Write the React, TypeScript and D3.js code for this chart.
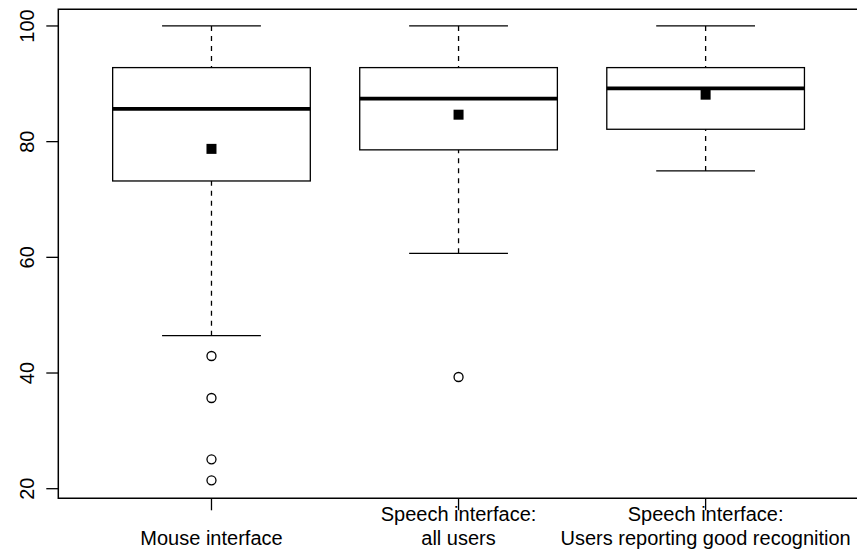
import React from "react";
import * as d3 from "d3";

const categories = [
  ["Mouse interface"],
  ["Speech interface:", "all users"],
  ["Speech interface:", "Users reporting good recognition"],
];
const whiskerLow = [46.45, 60.7, 74.93];
const q1 = [73.2, 78.58, 82.14];
const median = [85.66, 87.43, 89.2];
const q3 = [92.8, 92.8, 92.8];
const whiskerHigh = [100, 100, 100];
const means = [78.75, 84.66, 88.12];
const outliers = [
  [42.94, 35.68, 25.08, 21.45],
  [39.31],
  [],
];
const yTicks = [20, 40, 60, 80, 100];

const W = 857;
const H = 550;
const left = 58.3;
const top = 9.3;
const bottom = 498.3;
const right = 858.8;

export default function App() {
  const x = d3.scaleLinear().domain([0.38, 3.62]).range([left, right]);
  const y = d3.scaleLinear().domain([18.34, 102.88]).range([bottom, top]);
  const bw = x(1.4) - x(1);
  const cw = x(1.2) - x(1);
  const font = "'Liberation Sans', Arial, Helvetica, sans-serif";
  const stroke = "#000";
  const lw = 1.3;

  return (
    <svg
      width={W}
      height={H}
      style={{ position: "absolute", left: 0, top: 0, display: "block", background: "#fff" }}
    >
      {/* plot frame (right side lies outside the canvas) */}
      <path
        d={`M${W + 2},${top}H${left}V${bottom}H${W + 2}`}
        fill="none"
        stroke={stroke}
        strokeWidth={1.5}
      />

      {categories.map((cat, i) => {
        const cx = x(i + 1);
        return (
          <g key={i}>
            <line x1={cx} x2={cx} y1={y(whiskerHigh[i])} y2={y(q3[i])} stroke={stroke} strokeWidth={lw} strokeDasharray="5,5" />
            <line x1={cx} x2={cx} y1={y(whiskerLow[i])} y2={y(q1[i])} stroke={stroke} strokeWidth={lw} strokeDasharray="5,5" />
            <line x1={cx - cw} x2={cx + cw} y1={y(whiskerHigh[i])} y2={y(whiskerHigh[i])} stroke={stroke} strokeWidth={lw} />
            <line x1={cx - cw} x2={cx + cw} y1={y(whiskerLow[i])} y2={y(whiskerLow[i])} stroke={stroke} strokeWidth={lw} />
            <rect x={cx - bw} y={y(q3[i])} width={2 * bw} height={y(q1[i]) - y(q3[i])} fill="#fff" stroke={stroke} strokeWidth={lw} />
            <line x1={cx - bw} x2={cx + bw} y1={y(median[i])} y2={y(median[i])} stroke={stroke} strokeWidth={3.8} />
            <rect x={cx - 5} y={y(means[i]) - 5} width={10} height={10} fill={stroke} />
            {outliers[i].map((v, j) => (
              <circle key={j} cx={cx} cy={y(v)} r={4.5} fill="none" stroke={stroke} strokeWidth={lw} />
            ))}
            <line x1={cx} x2={cx} y1={bottom} y2={bottom + 12} stroke={stroke} strokeWidth={lw} />
            {cat.map((t, k) => (
              <text
                key={k}
                x={cx}
                y={545 - (cat.length - 1 - k) * 24}
                textAnchor="middle"
                fontFamily={font}
                fontSize={20}
                fill="#000"
              >
                {t}
              </text>
            ))}
          </g>
        );
      })}

      {yTicks.map((t) => (
        <g key={t}>
          <line x1={left - 12} x2={left} y1={y(t)} y2={y(t)} stroke={stroke} strokeWidth={lw} />
          <text
            transform={`translate(${left - 24},${y(t)}) rotate(-90)`}
            textAnchor="middle"
            fontFamily={font}
            fontSize={20}
            fill="#000"
          >
            {t}
          </text>
        </g>
      ))}
    </svg>
  );
}
